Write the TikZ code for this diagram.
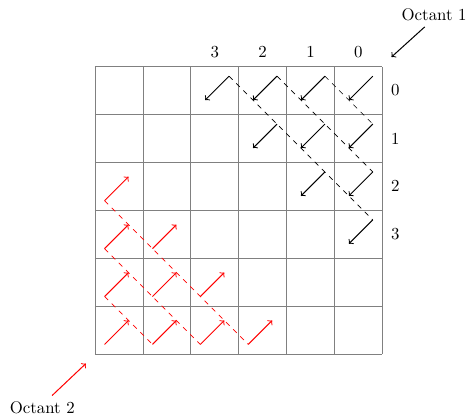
\documentclass[tikz,border=0pt]{standalone}
\begin{document}
\begin{tikzpicture}[
  gridline/.style={gray},
  blackarrow/.style={->,black,semithick},
  redarrow/.style={->,red,semithick},
  blackdash/.style={dashed,black},
  reddash/.style={dashed,red}
]
\useasboundingbox (-1.983,-1.294) rectangle (7.808,7.390);
\draw[gridline] (0,0) grid (6,6);
\foreach \i in {0,...,3}{
  \pgfmathtruncatemacro\jmax{3-\i}
  \foreach \j in {0,...,\jmax}{
    \coordinate (bt-\i-\j) at (5.8-\j,5.8-\i);
    \coordinate (bh-\i-\j) at (5.3-\j,5.3-\i);
    \draw[blackarrow] (bt-\i-\j) -- (bh-\i-\j);
    \coordinate (rt-\i-\j) at (0.2+\i,0.2+\j);
    \coordinate (rh-\i-\j) at (0.7+\i,0.7+\j);
    \draw[redarrow] (rt-\i-\j) -- (rh-\i-\j);
  }
}
\foreach \k in {1,2,3}{
  \draw[blackdash] (bt-0-\k) -- (bt-\k-0);
  \draw[reddash] (rt-0-\k) -- (rt-\k-0);
}
\foreach \j in {0,...,3}{
  \node (col\j) at (5.5-\j,6.3) {\j};
  \node (row\j) at (6.27,5.5-\j) {\j};
}
\node (oct1) at (7.08,7.08) {Octant 1};
\coordinate (o1tip) at (6.19,6.2);
\draw[blackarrow] (oct1.-128) -- (o1tip);
\node (oct2) at (-1.10,-1.12) {Octant 2};
\coordinate (o2tip) at (-0.19,-0.2);
\draw[redarrow] (oct2.51) -- (o2tip);
\end{tikzpicture}
\end{document}
